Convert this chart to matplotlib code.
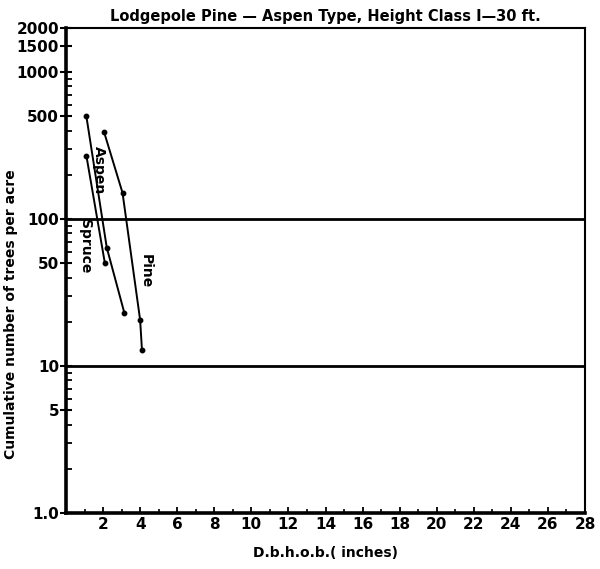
import numpy as np
import matplotlib.pyplot as plt
from matplotlib.ticker import FixedLocator, NullFormatter

plt.rcParams.update({
    "font.family": "DejaVu Sans",
    "font.weight": "bold",
})

# cumulative trees per acre by d.b.h.
aspen_dbh = [1.1, 2.2, 3.15]
aspen_n = [500, 64, 23]
spruce_dbh = [1.1, 2.1]
spruce_n = [270, 50]
pine_dbh = [2.05, 3.05, 4.0, 4.1]
pine_n = [393, 151, 20.6, 12.8]

ytick_vals = [1, 5, 10, 50, 100, 500, 1000, 1500, 2000]
ytick_labels = ["1.0", "5", "10", "50", "100", "500", "1000", "1500", "2000"]
xtick_vals = list(range(2, 29, 2))

fig = plt.figure(figsize=(6.0, 5.69), dpi=100)
ax = fig.add_axes([0.11, 0.098, 0.865, 0.853])

for xs, ys in [(aspen_dbh, aspen_n), (spruce_dbh, spruce_n), (pine_dbh, pine_n)]:
    ax.plot(xs, ys, "-o", color="black", lw=1.4, markersize=3.2)

ax.text(1.75, 215, "Aspen", rotation=-90, ha="center", va="center",
        fontsize=10, fontweight="bold")
ax.text(1.0, 66, "Spruce", rotation=-90, ha="center", va="center",
        fontsize=10, fontweight="bold")
ax.text(4.3, 44, "Pine", rotation=-90, ha="center", va="center",
        fontsize=10, fontweight="bold")

# heavy rules at the decade breaks
for yv in (100, 10):
    ax.axhline(yv, color="black", lw=2.0)

ax.set_yscale("log")
ax.set_ylim(1, 2000)
ax.set_xlim(0, 28)

ax.yaxis.set_major_locator(FixedLocator(ytick_vals))
ax.set_yticklabels(ytick_labels)
minor_y = [m * d for d in (1, 10, 100) for m in range(2, 10) if m != 5]
ax.yaxis.set_minor_locator(FixedLocator(minor_y))
ax.yaxis.set_minor_formatter(NullFormatter())

ax.set_xticks(xtick_vals)
ax.set_xticks(range(1, 28), minor=True)

ax.tick_params(axis="y", which="major", direction="inout", length=8, width=1.5,
               labelsize=11, pad=1)
ax.tick_params(axis="y", which="minor", direction="in", length=4, width=1.3)
ax.tick_params(axis="x", which="major", direction="in", length=4, width=1.3,
               labelsize=11, pad=3)
ax.tick_params(axis="x", which="minor", direction="in", length=3, width=1.2)

ax.spines["left"].set_linewidth(2.6)
ax.spines["bottom"].set_linewidth(2.6)
ax.spines["top"].set_linewidth(1.5)
ax.spines["right"].set_linewidth(1.5)

ax.set_title("Lodgepole Pine \u2014 Aspen Type, Height Class I\u201430 ft.",
             fontsize=10.5, fontweight="bold", pad=5)
ax.set_ylabel("Cumulative number of trees per acre", fontsize=10,
              fontweight="bold")
ax.yaxis.set_label_coords(-0.092, 0.41)
ax.set_xlabel("D.b.h.o.b.( inches)", fontsize=10, fontweight="bold",
              labelpad=10)

fig.savefig("out.png", dpi=100, facecolor="white")
